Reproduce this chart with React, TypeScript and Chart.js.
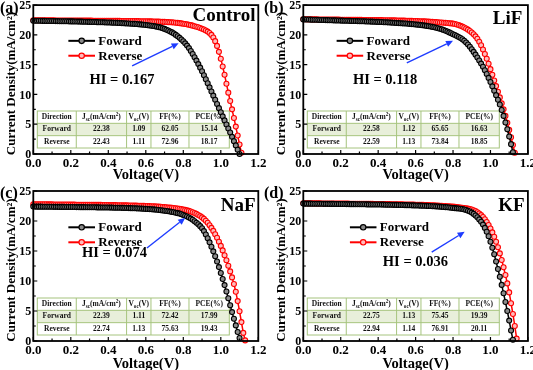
import React, { useEffect, useRef } from 'react';
import { Chart, registerables } from 'chart.js';

Chart.register(...registerables);

// ---------------- data ----------------
const VOLT = [
  0.00, 0.01, 0.02, 0.03, 0.04, 0.05, 0.06, 0.07, 0.08, 0.09,
  0.10, 0.11, 0.12, 0.13, 0.14, 0.15, 0.16, 0.17, 0.18, 0.19,
  0.20, 0.21, 0.22, 0.23, 0.24, 0.25, 0.26, 0.27, 0.28, 0.29,
  0.30, 0.31, 0.32, 0.33, 0.34, 0.35, 0.36, 0.37, 0.38, 0.39,
  0.40, 0.41, 0.42, 0.43, 0.44, 0.45, 0.46, 0.47, 0.48, 0.49,
  0.50, 0.51, 0.52, 0.53, 0.54, 0.55, 0.56, 0.57, 0.58, 0.59,
  0.60, 0.61, 0.62, 0.63, 0.64, 0.65, 0.66, 0.67, 0.68, 0.69,
  0.70, 0.71, 0.72, 0.73, 0.74, 0.75, 0.76, 0.77, 0.78, 0.79,
  0.80, 0.81, 0.82, 0.83, 0.84, 0.85, 0.86, 0.87, 0.88, 0.89,
  0.90, 0.91, 0.92, 0.93, 0.94, 0.95, 0.96, 0.97, 0.98, 0.99,
  1.00, 1.01, 1.02, 1.03, 1.04, 1.05, 1.06, 1.07, 1.08, 1.09,
  1.10, 1.11, 1.12, 1.13, 1.14,
];

// (a) Control
const FWD_A = [
  22.38, 22.37, 22.37, 22.36, 22.36, 22.35, 22.35, 22.34, 22.34, 22.33,
  22.32, 22.32, 22.31, 22.31, 22.30, 22.30, 22.29, 22.28, 22.28, 22.27,
  22.26, 22.26, 22.25, 22.24, 22.23, 22.23, 22.22, 22.21, 22.20, 22.19,
  22.18, 22.17, 22.16, 22.15, 22.14, 22.13, 22.12, 22.11, 22.10, 22.09,
  22.08, 22.07, 22.05, 22.04, 22.03, 22.01, 21.99, 21.98, 21.96, 21.94,
  21.92, 21.90, 21.88, 21.86, 21.84, 21.82, 21.79, 21.76, 21.73, 21.70,
  21.66, 21.62, 21.58, 21.53, 21.48, 21.43, 21.37, 21.30, 21.22, 21.12,
  21.00, 20.87, 20.73, 20.58, 20.42, 20.22, 20.00, 19.76, 19.50, 19.22,
  18.92, 18.58, 18.20, 17.78, 17.30, 16.80, 16.25, 15.68, 15.09, 14.50,
  13.90, 13.23, 12.55, 11.87, 11.19, 10.50, 9.80, 9.10, 8.40, 7.70,
  7.00, 6.32, 5.64, 4.96, 4.28, 3.60, 2.88, 2.16, 1.44, 0.72,
  0.00,
];
const REV_A = [
  22.45, 22.45, 22.45, 22.44, 22.44, 22.44, 22.44, 22.43, 22.43, 22.43,
  22.43, 22.43, 22.42, 22.42, 22.42, 22.42, 22.42, 22.41, 22.41, 22.41,
  22.41, 22.41, 22.40, 22.40, 22.40, 22.40, 22.40, 22.39, 22.39, 22.39,
  22.39, 22.39, 22.38, 22.38, 22.38, 22.38, 22.37, 22.37, 22.37, 22.37,
  22.36, 22.36, 22.36, 22.36, 22.35, 22.35, 22.35, 22.34, 22.34, 22.34,
  22.33, 22.33, 22.33, 22.32, 22.32, 22.31, 22.31, 22.30, 22.30, 22.29,
  22.28, 22.28, 22.27, 22.26, 22.25, 22.24, 22.23, 22.22, 22.21, 22.19,
  22.18, 22.16, 22.14, 22.12, 22.10, 22.07, 22.04, 22.01, 21.97, 21.93,
  21.88, 21.83, 21.77, 21.70, 21.63, 21.55, 21.46, 21.37, 21.27, 21.16,
  21.04, 20.90, 20.74, 20.55, 20.32, 20.00, 19.55, 18.95, 18.15, 17.15,
  16.00, 14.70, 13.30, 11.80, 10.30, 8.90, 7.50, 6.05, 4.60, 3.10,
  1.60, 0.20,
];

// (b) LiF
const FWD_B = [
  22.60, 22.59, 22.58, 22.57, 22.56, 22.55, 22.54, 22.53, 22.52, 22.51,
  22.50, 22.49, 22.48, 22.47, 22.46, 22.45, 22.44, 22.43, 22.42, 22.41,
  22.40, 22.39, 22.38, 22.37, 22.36, 22.35, 22.34, 22.33, 22.32, 22.31,
  22.30, 22.29, 22.28, 22.27, 22.25, 22.24, 22.23, 22.22, 22.20, 22.19,
  22.18, 22.16, 22.15, 22.13, 22.12, 22.10, 22.08, 22.06, 22.04, 22.02,
  22.00, 21.98, 21.96, 21.94, 21.92, 21.90, 21.87, 21.84, 21.81, 21.78,
  21.75, 21.72, 21.68, 21.64, 21.60, 21.56, 21.51, 21.46, 21.40, 21.34,
  21.27, 21.20, 21.12, 21.03, 20.93, 20.82, 20.70, 20.57, 20.42, 20.27,
  20.10, 19.97, 19.82, 19.65, 19.47, 19.27, 19.02, 18.72, 18.38, 18.00,
  17.58, 17.14, 16.68, 16.20, 15.70, 15.18, 14.64, 14.06, 13.44, 12.78,
  12.08, 11.36, 10.62, 9.88, 9.12, 8.30, 7.40, 6.40, 5.30, 4.15,
  2.95, 1.65, 0.30,
];
const REV_B = [
  22.62, 22.62, 22.61, 22.61, 22.61, 22.60, 22.60, 22.60, 22.59, 22.59,
  22.59, 22.58, 22.58, 22.58, 22.57, 22.57, 22.57, 22.56, 22.56, 22.56,
  22.55, 22.55, 22.55, 22.54, 22.54, 22.54, 22.53, 22.53, 22.53, 22.52,
  22.52, 22.52, 22.51, 22.51, 22.50, 22.50, 22.50, 22.49, 22.49, 22.48,
  22.48, 22.47, 22.47, 22.46, 22.46, 22.45, 22.45, 22.44, 22.43, 22.43,
  22.42, 22.41, 22.40, 22.40, 22.39, 22.38, 22.37, 22.36, 22.35, 22.34,
  22.33, 22.32, 22.30, 22.29, 22.27, 22.26, 22.24, 22.22, 22.20, 22.18,
  22.16, 22.14, 22.12, 22.09, 22.07, 22.04, 22.02, 21.99, 21.96, 21.93,
  21.89, 21.83, 21.74, 21.64, 21.52, 21.39, 21.24, 21.07, 20.88, 20.66,
  20.40, 20.10, 19.75, 19.35, 18.85, 18.25, 17.55, 16.80, 16.00, 15.15,
  14.25, 13.30, 12.35, 11.40, 10.45, 9.50, 8.50, 7.50, 6.40, 5.25,
  4.05, 2.80, 1.50, 0.20,
];

// (c) NaF
const FWD_C = [
  22.40, 22.40, 22.39, 22.39, 22.39, 22.38, 22.38, 22.38, 22.37, 22.37,
  22.37, 22.36, 22.36, 22.36, 22.35, 22.35, 22.35, 22.34, 22.34, 22.34,
  22.33, 22.33, 22.33, 22.32, 22.32, 22.31, 22.31, 22.31, 22.30, 22.30,
  22.29, 22.29, 22.28, 22.28, 22.27, 22.27, 22.26, 22.26, 22.25, 22.25,
  22.24, 22.23, 22.23, 22.22, 22.21, 22.21, 22.20, 22.19, 22.18, 22.17,
  22.16, 22.15, 22.14, 22.13, 22.12, 22.11, 22.09, 22.08, 22.06, 22.04,
  22.02, 22.00, 21.98, 21.96, 21.93, 21.90, 21.87, 21.84, 21.80, 21.76,
  21.72, 21.67, 21.62, 21.57, 21.51, 21.45, 21.38, 21.31, 21.23, 21.12,
  21.00, 20.88, 20.74, 20.58, 20.40, 20.20, 19.97, 19.72, 19.45, 19.14,
  18.80, 18.32, 17.74, 17.12, 16.44, 15.72, 14.94, 14.12, 13.24, 12.32,
  11.34, 10.34, 9.32, 8.24, 7.12, 5.96, 4.82, 3.70, 2.60, 1.50,
  0.50,
];
const REV_C = [
  22.80, 22.80, 22.79, 22.79, 22.79, 22.78, 22.78, 22.78, 22.77, 22.77,
  22.77, 22.76, 22.76, 22.76, 22.75, 22.75, 22.75, 22.74, 22.74, 22.74,
  22.73, 22.73, 22.73, 22.72, 22.72, 22.72, 22.71, 22.71, 22.71, 22.70,
  22.70, 22.70, 22.69, 22.69, 22.68, 22.68, 22.68, 22.67, 22.67, 22.66,
  22.66, 22.65, 22.65, 22.64, 22.64, 22.63, 22.63, 22.62, 22.61, 22.61,
  22.60, 22.59, 22.58, 22.58, 22.57, 22.56, 22.55, 22.54, 22.53, 22.52,
  22.51, 22.49, 22.48, 22.46, 22.45, 22.43, 22.41, 22.39, 22.37, 22.34,
  22.32, 22.29, 22.26, 22.23, 22.20, 22.16, 22.12, 22.08, 22.03, 21.98,
  21.92, 21.85, 21.77, 21.68, 21.58, 21.46, 21.33, 21.18, 21.01, 20.82,
  20.60, 20.35, 20.05, 19.70, 19.30, 18.85, 18.35, 17.80, 17.20, 16.55,
  15.85, 15.10, 14.30, 13.45, 12.55, 11.60, 10.60, 9.50, 8.20, 6.65,
  4.95, 3.15, 1.35, 0.10,
];

// (d) KF
const FWD_D = [
  22.90, 22.90, 22.89, 22.89, 22.89, 22.88, 22.88, 22.88, 22.87, 22.87,
  22.87, 22.86, 22.86, 22.86, 22.85, 22.85, 22.85, 22.84, 22.84, 22.84,
  22.83, 22.83, 22.83, 22.82, 22.82, 22.81, 22.81, 22.81, 22.80, 22.80,
  22.79, 22.79, 22.78, 22.78, 22.77, 22.77, 22.76, 22.76, 22.75, 22.75,
  22.74, 22.74, 22.73, 22.73, 22.72, 22.71, 22.71, 22.70, 22.69, 22.69,
  22.68, 22.67, 22.66, 22.66, 22.65, 22.64, 22.63, 22.62, 22.61, 22.60,
  22.59, 22.58, 22.57, 22.56, 22.55, 22.53, 22.52, 22.50, 22.49, 22.47,
  22.45, 22.43, 22.41, 22.39, 22.36, 22.34, 22.31, 22.28, 22.25, 22.21,
  22.17, 22.14, 22.11, 22.08, 22.04, 22.00, 21.92, 21.83, 21.72, 21.58,
  21.40, 21.18, 20.92, 20.62, 20.27, 19.87, 19.40, 18.85, 18.20, 17.45,
  16.55, 15.55, 14.45, 13.25, 12.00, 10.70, 9.35, 7.95, 6.50, 5.00,
  3.40, 1.75, 0.20,
];
const REV_D = [
  22.95, 22.95, 22.94, 22.94, 22.94, 22.94, 22.93, 22.93, 22.93, 22.93,
  22.92, 22.92, 22.92, 22.92, 22.91, 22.91, 22.91, 22.91, 22.90, 22.90,
  22.90, 22.90, 22.89, 22.89, 22.89, 22.88, 22.88, 22.88, 22.88, 22.87,
  22.87, 22.87, 22.86, 22.86, 22.86, 22.85, 22.85, 22.85, 22.84, 22.84,
  22.84, 22.83, 22.83, 22.82, 22.82, 22.81, 22.81, 22.80, 22.80, 22.79,
  22.79, 22.78, 22.78, 22.77, 22.76, 22.76, 22.75, 22.74, 22.73, 22.73,
  22.72, 22.71, 22.70, 22.69, 22.68, 22.67, 22.66, 22.64, 22.63, 22.62,
  22.60, 22.59, 22.57, 22.55, 22.53, 22.51, 22.49, 22.47, 22.44, 22.42,
  22.39, 22.36, 22.33, 22.29, 22.25, 22.21, 22.17, 22.12, 22.07, 22.01,
  21.92, 21.80, 21.65, 21.47, 21.25, 20.98, 20.66, 20.28, 19.84, 19.33,
  18.75, 18.10, 17.37, 16.55, 15.62, 14.60, 13.50, 12.30, 11.00, 9.60,
  8.10, 6.30, 4.50, 2.50, 0.40,
];

const TABLE_A = [
  ['Forward', '22.38', '1.09', '62.05', '15.14'],
  ['Reverse', '22.43', '1.11', '72.96', '18.17'],
];
const TABLE_B = [
  ['Forward', '22.58', '1.12', '65.65', '16.63'],
  ['Reverse', '22.59', '1.13', '73.84', '18.85'],
];
const TABLE_C = [
  ['Forward', '22.39', '1.11', '72.42', '17.99'],
  ['Reverse', '22.74', '1.13', '75.63', '19.43'],
];
const TABLE_D = [
  ['Forward', '22.75', '1.13', '75.45', '19.39'],
  ['Reverse', '22.94', '1.14', '76.91', '20.11'],
];

const X_TICKS = [0, 0.2, 0.4, 0.6, 0.8, 1.0, 1.2];
const X_TICK_LABELS = ['0.0', '0.2', '0.4', '0.6', '0.8', '1.0', '1.2'];
const Y_TICKS = [0, 5, 10, 15, 20, 25];
const Y_TICK_LABELS = ['0', '5', '10', '15', '20', '25'];

const X_TITLE = 'Voltage(V)';
const Y_TITLE = 'Current Density(mA/cm²)';

// ---------------- styling ----------------
const SERIF = '"Liberation Serif", "Times New Roman", serif';
const f = (size: number) => `bold ${size}px ${SERIF}`;
const BLACK = '#000000';
const BLACK_FILL = '#8a8a8a';
const RED = '#ff0000';
const RED_FILL = '#ffbcbc';
const BLUE = '#1e3cff';
const TABLE_LINE = '#a6c47e';
const TABLE_FILL = '#e8efda';

type Seg = { t: string; sub?: boolean; sup?: boolean };

type PanelCfg = {
  letter: string;
  name: string;
  hi: string;
  fwdLabel: string;
  fwd: number[];
  rev: number[];
  table: string[][];
  nameAt: [number, number];
  hiAt: [number, number];
  legLine: [number, number];
  legText: number;
  legY: [number, number];
  arrow: [[number, number], [number, number]];
  letterX: number;
  left: number;
  top: number;
  width: number;
  height: number;
  padL: number;
  padT: number;
  titleGap: number;
};

const PLOT_W = 225;
const PLOT_H = 150;

const PANELS: PanelCfg[] = [
  {
    letter: '(a)', name: 'Control', hi: 'HI = 0.167', fwdLabel: 'Foward',
    fwd: FWD_A, rev: REV_A, table: TABLE_A,
    nameAt: [1.185, 23.1], hiAt: [0.30, 12.3],
    legLine: [0.187, 0.329], legText: 0.347, legY: [19.0, 16.5],
    arrow: [[0.527, 14.8], [0.775, 18.6]],
    letterX: 0, left: 0, top: 0, width: 266, height: 185, padL: 33.3, padT: 4, titleGap: 21,
  },
  {
    letter: '(b)', name: 'LiF', hi: 'HI = 0.118', fwdLabel: 'Foward',
    fwd: FWD_B, rev: REV_B, table: TABLE_B,
    nameAt: [1.17, 22.7], hiAt: [0.265, 12.3],
    legLine: [0.178, 0.32], legText: 0.338, legY: [19.0, 16.5],
    arrow: [[0.553, 15.3], [0.80, 19.0]],
    letterX: 2, left: 262, top: 0, width: 271, height: 185, padL: 41.3, padT: 4, titleGap: 21,
  },
  {
    letter: '(c)', name: 'NaF', hi: 'HI = 0.074', fwdLabel: 'Foward',
    fwd: FWD_C, rev: REV_C, table: TABLE_C,
    nameAt: [1.185, 22.55], hiAt: [0.26, 14.7],
    legLine: [0.187, 0.329], legText: 0.347, legY: [18.95, 16.45],
    arrow: [[0.606, 15.5], [0.81, 20.5]],
    letterX: 0, left: 0, top: 185, width: 266, height: 185, padL: 33.3, padT: 6, titleGap: 23,
  },
  {
    letter: '(d)', name: 'KF', hi: 'HI = 0.036', fwdLabel: 'Forward',
    fwd: FWD_D, rev: REV_D, table: TABLE_D,
    nameAt: [1.183, 22.55], hiAt: [0.425, 13.2],
    legLine: [0.249, 0.391], legText: 0.409, legY: [18.95, 16.45],
    arrow: [[0.686, 14.8], [0.862, 18.2]],
    letterX: 2, left: 262, top: 185, width: 271, height: 185, padL: 41.3, padT: 6, titleGap: 23,
  },
];

const HEADER: Seg[][] = [
  [{ t: 'Direction' }],
  [{ t: 'J' }, { t: 'sc', sub: true }, { t: '(mA/cm' }, { t: '2', sup: true }, { t: ')' }],
  [{ t: 'V' }, { t: 'oc', sub: true }, { t: '(V)' }],
  [{ t: 'FF(%)' }],
  [{ t: 'PCE(%)' }],
];
const COL_FRAC = [0.203, 0.262, 0.127, 0.198, 0.21];

function drawSegs(ctx: CanvasRenderingContext2D, segs: Seg[], cx: number, cy: number, size: number) {
  const small = size * 0.68;
  let total = 0;
  const widths = segs.map((s) => {
    ctx.font = f(s.sub || s.sup ? small : size);
    const w = ctx.measureText(s.t).width;
    total += w;
    return w;
  });
  let x = cx - total / 2;
  ctx.textAlign = 'left';
  ctx.textBaseline = 'middle';
  segs.forEach((s, i) => {
    ctx.font = f(s.sub || s.sup ? small : size);
    const dy = s.sub ? size * 0.3 : s.sup ? -size * 0.3 : 0;
    ctx.fillText(s.t, x, cy + dy);
    x += widths[i];
  });
}

function marker(ctx: CanvasRenderingContext2D, x: number, y: number, stroke: string, fill: string) {
  ctx.beginPath();
  ctx.arc(x, y, 2.7, 0, Math.PI * 2);
  ctx.fillStyle = fill;
  ctx.fill();
  ctx.lineWidth = 1.2;
  ctx.strokeStyle = stroke;
  ctx.stroke();
}

function makePlugin(cfg: PanelCfg) {
  return {
    id: 'decor',
    beforeDatasetsDraw(chart: any) {
      const { ctx, chartArea: a } = chart;
      // table
      ctx.save();
      const tw = 192;
      const th = 37;
      const x0 = a.left + 4;
      const y0 = a.bottom - 6 - th;
      const rh = th / 3;
      ctx.fillStyle = '#ffffff';
      ctx.fillRect(x0, y0, tw, th);
      ctx.fillStyle = TABLE_FILL;
      ctx.fillRect(x0, y0 + rh, tw, rh);
      ctx.strokeStyle = TABLE_LINE;
      ctx.lineWidth = 1;
      ctx.strokeRect(x0, y0, tw, th);
      for (let r = 1; r < 3; r++) {
        ctx.beginPath();
        ctx.moveTo(x0, y0 + r * rh);
        ctx.lineTo(x0 + tw, y0 + r * rh);
        ctx.stroke();
      }
      let cx = x0;
      const colX: number[] = [];
      COL_FRAC.forEach((fr, i) => {
        colX.push(cx + (fr * tw) / 2);
        cx += fr * tw;
        if (i < COL_FRAC.length - 1) {
          ctx.beginPath();
          ctx.moveTo(cx, y0);
          ctx.lineTo(cx, y0 + th);
          ctx.stroke();
        }
      });
      ctx.fillStyle = '#111111';
      HEADER.forEach((segs, i) => drawSegs(ctx, segs, colX[i], y0 + rh / 2, 7.5));
      cfg.table.forEach((row, r) => {
        row.forEach((cell, i) => drawSegs(ctx, [{ t: cell }], colX[i], y0 + rh * (r + 1.5), 7.5));
      });
      ctx.restore();
    },
    afterDatasetsDraw(chart: any) {
      const { ctx, chartArea: a, scales } = chart;
      const px = (v: number) => scales.x.getPixelForValue(v);
      const py = (v: number) => scales.y.getPixelForValue(v);
      ctx.save();
      // frame
      ctx.strokeStyle = '#000';
      ctx.lineWidth = 1.8;
      ctx.strokeRect(a.left, a.top, a.right - a.left, a.bottom - a.top);
      // ticks
      ctx.lineWidth = 1.2;
      ctx.beginPath();
      X_TICKS.forEach((t, i) => {
        const x = px(t);
        ctx.moveTo(x, a.bottom);
        ctx.lineTo(x, a.bottom - 4);
        if (i < X_TICKS.length - 1) {
          const xm = px((t + X_TICKS[i + 1]) / 2);
          ctx.moveTo(xm, a.bottom);
          ctx.lineTo(xm, a.bottom - 2.5);
        }
      });
      Y_TICKS.forEach((t, i) => {
        const y = py(t);
        ctx.moveTo(a.left, y);
        ctx.lineTo(a.left + 4, y);
        if (i < Y_TICKS.length - 1) {
          const ym = py((t + Y_TICKS[i + 1]) / 2);
          ctx.moveTo(a.left, ym);
          ctx.lineTo(a.left + 2.5, ym);
        }
      });
      ctx.stroke();
      // tick labels
      ctx.fillStyle = '#000';
      ctx.font = f(13);
      ctx.textAlign = 'center';
      ctx.textBaseline = 'top';
      X_TICKS.forEach((t, i) => ctx.fillText(X_TICK_LABELS[i], px(t), a.bottom + 3));
      ctx.font = f(12);
      ctx.textAlign = 'right';
      ctx.textBaseline = 'middle';
      Y_TICKS.forEach((t, i) => ctx.fillText(Y_TICK_LABELS[i], a.left - 2, py(t) + 1));
      // axis titles
      ctx.font = f(14.5);
      ctx.textAlign = 'center';
      ctx.textBaseline = 'middle';
      ctx.fillText(X_TITLE, (a.left + a.right) / 2, a.bottom + cfg.titleGap);
      ctx.save();
      ctx.translate(a.left - 22, (a.top + a.bottom) / 2 + 4);
      ctx.rotate(-Math.PI / 2);
      ctx.font = f(13);
      ctx.fillText(Y_TITLE, 0, 0);
      ctx.restore();
      // panel letter
      ctx.font = f(16);
      ctx.textAlign = 'left';
      ctx.textBaseline = 'middle';
      ctx.fillText(cfg.letter, cfg.letterX, 8.5);
      // panel name
      ctx.font = f(19);
      ctx.textAlign = 'right';
      ctx.fillText(cfg.name, px(cfg.nameAt[0]), py(cfg.nameAt[1]));
      // HI text
      ctx.font = f(14.5);
      ctx.textAlign = 'left';
      ctx.fillText(cfg.hi, px(cfg.hiAt[0]), py(cfg.hiAt[1]));
      // legend
      const items: [string, string, string, number][] = [
        [cfg.fwdLabel, BLACK, BLACK_FILL, cfg.legY[0]],
        ['Reverse', RED, RED_FILL, cfg.legY[1]],
      ];
      items.forEach(([label, stroke, fill, yv]) => {
        const y = py(yv);
        ctx.strokeStyle = stroke;
        ctx.lineWidth = 2;
        ctx.beginPath();
        ctx.moveTo(px(cfg.legLine[0]), y);
        ctx.lineTo(px(cfg.legLine[1]), y);
        ctx.stroke();
        marker(ctx, (px(cfg.legLine[0]) + px(cfg.legLine[1])) / 2, y, stroke, fill);
        ctx.fillStyle = '#000';
        ctx.font = f(13);
        ctx.textAlign = 'left';
        ctx.textBaseline = 'middle';
        ctx.fillText(label, px(cfg.legText), y + 0.5);
      });
      // arrow
      const [p1, p2] = cfg.arrow;
      const x1 = px(p1[0]), y1 = py(p1[1]), x2 = px(p2[0]), y2 = py(p2[1]);
      const ang = Math.atan2(y2 - y1, x2 - x1);
      const hl = 7, hw = 3.2;
      ctx.strokeStyle = BLUE;
      ctx.fillStyle = BLUE;
      ctx.lineWidth = 1.4;
      ctx.beginPath();
      ctx.moveTo(x1, y1);
      ctx.lineTo(x2 - hl * Math.cos(ang), y2 - hl * Math.sin(ang));
      ctx.stroke();
      ctx.beginPath();
      ctx.moveTo(x2, y2);
      ctx.lineTo(x2 - hl * Math.cos(ang) + hw * Math.sin(ang), y2 - hl * Math.sin(ang) - hw * Math.cos(ang));
      ctx.lineTo(x2 - hl * Math.cos(ang) - hw * Math.sin(ang), y2 - hl * Math.sin(ang) + hw * Math.cos(ang));
      ctx.closePath();
      ctx.fill();
      ctx.restore();
    },
  };
}

function Panel({ cfg }: { cfg: PanelCfg }) {
  const ref = useRef<HTMLCanvasElement>(null);
  useEffect(() => {
    if (!ref.current) return;
    const toXY = (arr: number[]) => arr.map((y, i) => ({ x: VOLT[i], y }));
    const chart = new Chart(ref.current, {
      type: 'line',
      data: {
        datasets: [
          {
            label: cfg.fwdLabel,
            data: toXY(cfg.fwd),
            borderColor: BLACK,
            backgroundColor: BLACK_FILL,
            pointBorderColor: BLACK,
            pointBackgroundColor: BLACK_FILL,
            borderWidth: 1.5,
            pointRadius: 2.5,
            pointBorderWidth: 1.1,
            tension: 0,
            clip: false as any,
          },
          {
            label: 'Reverse',
            data: toXY(cfg.rev),
            borderColor: RED,
            backgroundColor: RED_FILL,
            pointBorderColor: RED,
            pointBackgroundColor: RED_FILL,
            borderWidth: 1.5,
            pointRadius: 2.5,
            pointBorderWidth: 1.1,
            tension: 0,
            clip: false as any,
          },
        ],
      },
      options: {
        animation: false,
        responsive: false,
        maintainAspectRatio: false,
        devicePixelRatio: 1,
        events: [],
        layout: {
          padding: {
            left: cfg.padL,
            top: cfg.padT,
            right: cfg.width - cfg.padL - PLOT_W,
            bottom: cfg.height - cfg.padT - PLOT_H,
          },
        },
        plugins: { legend: { display: false }, tooltip: { enabled: false } },
        scales: {
          x: { type: 'linear', min: 0, max: 1.2, display: false },
          y: { type: 'linear', min: 0, max: 25, display: false },
        },
      },
      plugins: [makePlugin(cfg)],
    } as any);
    return () => chart.destroy();
  }, [cfg]);
  return (
    <canvas
      ref={ref}
      width={cfg.width}
      height={cfg.height}
      style={{ position: 'absolute', left: cfg.left, top: cfg.top, width: cfg.width, height: cfg.height }}
    />
  );
}

export default function App() {
  return (
    <div style={{ position: 'fixed', left: 0, top: 0, width: 533, height: 370, background: '#ffffff', overflow: 'hidden' }}>
      {PANELS.map((p) => (
        <Panel key={p.letter} cfg={p} />
      ))}
    </div>
  );
}
